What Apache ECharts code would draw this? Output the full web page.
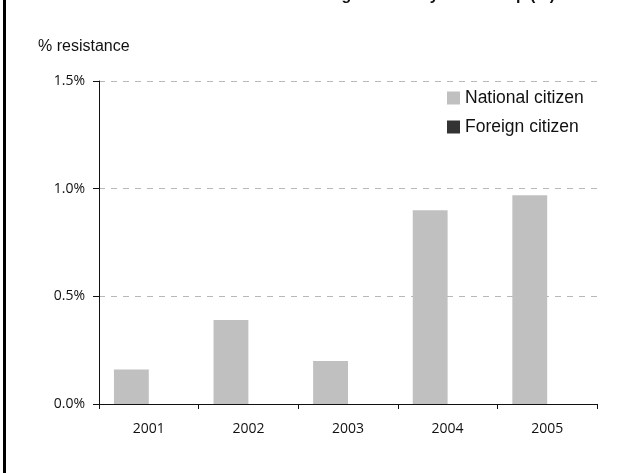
<!DOCTYPE html>
<html>
<head>
<meta charset="utf-8">
<script src="https://cdn.jsdelivr.net/npm/echarts@6/dist/echarts.min.js"></script>
<style>
html,body{margin:0;padding:0;background:#fff;}
#chart{width:634px;height:473px;}
</style>
</head>
<body>
<div id="chart"></div>
<script>
const titleText = "Resistance among isolates by citizenship (%)";
const years = ["2001", "2002", "2003", "2004", "2005"];
const seriesNames = ["National citizen", "Foreign citizen"];
const nationalValues = [0.16, 0.39, 0.20, 0.90, 0.97];
const foreignValues = [0, 0, 0, 0, 0];
const yTicks = [0, 0.5, 1.0, 1.5];

const chart = echarts.init(document.getElementById('chart'), null, {renderer: 'canvas'});
chart.setOption({
  animation: false,
  backgroundColor: '#fff',
  title: {
    text: titleText,
    left: 205,
    top: -17,
    textStyle: {fontFamily: 'Liberation Sans', fontSize: 16, fontWeight: 'bold', color: '#111'}
  },
  graphic: [
    {type: 'rect', left: 3, top: 0, shape: {width: 3, height: 473}, style: {fill: '#000'}},
    {type: 'text', left: 38, top: 39, style: {text: '% resistance', font: '16px "Liberation Sans"', fill: '#111'}}
  ],
  legend: {
    orient: 'vertical',
    left: 442,
    top: 84,
    itemWidth: 13,
    itemHeight: 13,
    itemGap: 11,
    icon: 'rect',
    textStyle: {fontFamily: 'Liberation Sans', fontSize: 17.5, color: '#111'},
    data: seriesNames
  },
  grid: {left: 99, right: 37, top: 81, bottom: 69, containLabel: false},
  xAxis: {
    type: 'category',
    data: years,
    axisLine: {lineStyle: {color: '#111', width: 1}},
    axisTick: {show: true, alignWithLabel: false, length: 5, lineStyle: {color: '#111'}},
    axisLabel: {fontFamily: 'Open Sans', fontSize: 14, color: '#111', margin: 18}
  },
  yAxis: {
    type: 'value',
    min: 0,
    max: 1.5,
    interval: 0.5,
    axisLine: {show: true, lineStyle: {color: '#111'}},
    axisTick: {show: true, length: 6, lineStyle: {color: '#111'}},
    axisLabel: {fontFamily: 'Open Sans', fontSize: 14, color: '#111', margin: 14,
      formatter: v => v.toFixed(1) + '%'},
    splitLine: {show: true, lineStyle: {color: '#b8b8b8', type: [6, 6], width: 1}}
  },
  series: [
    {name: seriesNames[0], type: 'bar', data: nationalValues, barWidth: '35%', barGap: '0%',
      itemStyle: {color: '#c0c0c0'}},
    {name: seriesNames[1], type: 'bar', data: foreignValues, barWidth: '35%',
      itemStyle: {color: '#333333'}}
  ]
});
</script>
</body>
</html>
